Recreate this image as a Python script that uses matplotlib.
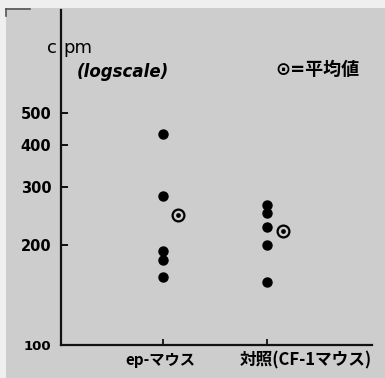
import numpy as np
import matplotlib
matplotlib.use("Agg")
import matplotlib.pyplot as plt
from matplotlib.patches import Rectangle
from matplotlib.lines import Line2D
from matplotlib.transforms import blended_transform_factory

plt.rcParams['font.family'] = ['Noto Sans CJK JP', 'DejaVu Sans']

# values (cpm, log scale)
groups = ['ep-マウス', '対照(CF-1マウス)']
ep_vals = [431, 281, 192, 180, 160]
ctrl_vals = [264, 249, 227, 200, 155]
means = [246, 221]
yticks = [100, 200, 300, 400, 500]

fig = plt.figure(figsize=(3.85, 3.78), dpi=100)
fig.patch.set_facecolor('#efefef')
# photographed page
fig.patches.append(Rectangle((6 / 385, 0), 1, 1 - 8 / 378, transform=fig.transFigure,
                             facecolor='#cdcdcd', edgecolor='none', zorder=-5))
fig.lines.append(Line2D([6 / 385, 30 / 385], [1 - 9 / 378, 1 - 9 / 378],
                        transform=fig.transFigure, color='#555555', lw=1.2))
fig.lines.append(Line2D([6.5 / 385, 6.5 / 385], [1 - 9 / 378, 1 - 16 / 378],
                        transform=fig.transFigure, color='#555555', lw=1.2))

ax = fig.add_axes([61 / 385, 33 / 378, 311 / 385, 335 / 378])
ax.set_zorder(2)
ax.set_facecolor('none')
ax.set_yscale('log')
ax.set_ylim(100, 1020)
ax.set_xlim(0.03, 3.0)

for s in ['top', 'right']:
    ax.spines[s].set_visible(False)
for s in ['left', 'bottom']:
    ax.spines[s].set_linewidth(1.6)
    ax.spines[s].set_color('#111111')

ax.plot([1] * len(ep_vals), ep_vals, 'o', color='black', ms=6.5, zorder=3)
ax.plot([2] * len(ctrl_vals), ctrl_vals, 'o', color='black', ms=6.5, zorder=3)
mx = [1.15, 2.15]
ax.plot(mx, means, 'o', mfc='none', mec='black', mew=1.6, ms=8.5, zorder=3)
ax.plot(mx, means, 'o', color='black', ms=2.4, zorder=4)

ax.set_yticks(yticks)
ax.set_yticklabels([str(v) for v in yticks], fontsize=10.5, fontweight='bold',
                   family='DejaVu Sans')
ax.yaxis.get_ticklabels()[0].set_fontsize(9.5)
ax.yaxis.set_minor_locator(matplotlib.ticker.NullLocator())
ax.tick_params(axis='y', direction='in', length=5, width=1.3, pad=7)
ax.set_xticks([1, 2])
ax.set_xticklabels(['', ''])
ax.tick_params(axis='x', direction='in', length=4, width=1.2)

tr = blended_transform_factory(ax.transData, ax.transAxes)
ax.text(0.98, -0.045, groups[0], transform=tr, ha='center', va='center',
        fontsize=11, fontweight='bold', clip_on=False)
ax.text(2.37, -0.045, groups[1], transform=tr, ha='center', va='center',
        fontsize=12, fontweight='bold', clip_on=False)

# "cpm" is split by the axis line in the original
fig.text(47 / 385, 1 - 48 / 378, 'c', fontsize=13, family='DejaVu Sans',
         va='center', ha='left')
fig.text(63 / 385, 1 - 48 / 378, 'pm', fontsize=13, family='DejaVu Sans',
         va='center', ha='left')
fig.text(77 / 385, 1 - 72 / 378, '(logscale)', fontsize=12, fontweight='bold',
         style='italic', family='DejaVu Sans', va='center', ha='left')
fig.text(275 / 385, 1 - 70 / 378, '⊙=平均値', fontsize=13, fontweight='bold',
         family=['DejaVu Sans', 'Noto Sans CJK JP'], va='center', ha='left')

fig.savefig('out.png', dpi=100, facecolor=fig.get_facecolor())
